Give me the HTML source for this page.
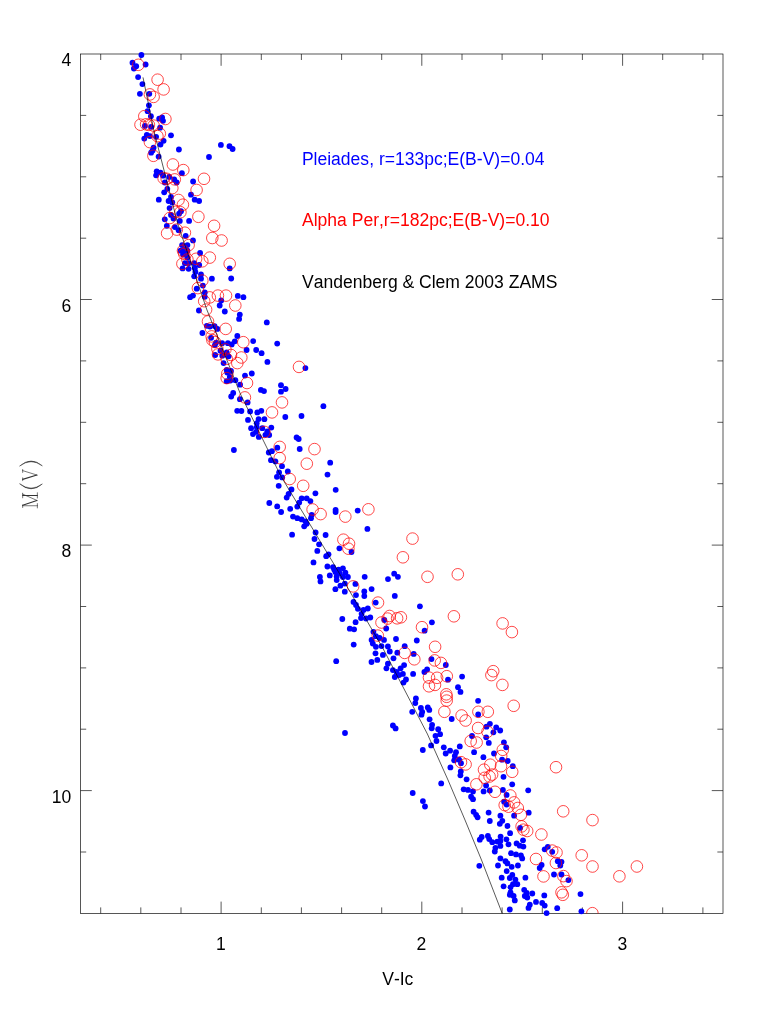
<!DOCTYPE html>
<html><head><meta charset="utf-8"><title>CMD</title>
<style>
html,body{margin:0;padding:0;background:#fff;}
body{width:763px;height:1016px;overflow:hidden;position:relative;}
svg{position:absolute;left:0;top:0;display:block;will-change:transform;}
text{font-family:"Liberation Sans",sans-serif;font-kerning:none;}
</style></head><body>
<svg width="763" height="1016" viewBox="0 0 763 1016">
<rect x="0" y="0" width="763" height="1016" fill="#fff"/>
<defs><clipPath id="pc"><rect x="80.6" y="54.0" width="642.35" height="859.4"/></clipPath></defs>
<g stroke="#000" stroke-width="0.66" fill="none">
<rect x="80.6" y="54.0" width="642.4" height="859.4"/>
<path d="M100.7 913.4v-6.0M100.7 54.0v6.0M140.8 913.4v-6.0M140.8 54.0v6.0M181.0 913.4v-6.0M181.0 54.0v6.0M221.1 913.4v-11.8M221.1 54.0v11.8M261.3 913.4v-6.0M261.3 54.0v6.0M301.4 913.4v-6.0M301.4 54.0v6.0M341.6 913.4v-6.0M341.6 54.0v6.0M381.7 913.4v-6.0M381.7 54.0v6.0M421.8 913.4v-11.8M421.8 54.0v11.8M462.0 913.4v-6.0M462.0 54.0v6.0M502.1 913.4v-6.0M502.1 54.0v6.0M542.3 913.4v-6.0M542.3 54.0v6.0M582.4 913.4v-6.0M582.4 54.0v6.0M622.6 913.4v-11.8M622.6 54.0v11.8M662.7 913.4v-6.0M662.7 54.0v6.0M702.9 913.4v-6.0M702.9 54.0v6.0M80.6 115.4h5.6M722.95 115.4h-5.6M80.6 176.8h5.6M722.95 176.8h-5.6M80.6 238.2h5.6M722.95 238.2h-5.6M80.6 299.5h11.2M722.95 299.5h-11.2M80.6 360.9h5.6M722.95 360.9h-5.6M80.6 422.3h5.6M722.95 422.3h-5.6M80.6 483.7h5.6M722.95 483.7h-5.6M80.6 545.1h11.2M722.95 545.1h-11.2M80.6 606.5h5.6M722.95 606.5h-5.6M80.6 667.9h5.6M722.95 667.9h-5.6M80.6 729.2h5.6M722.95 729.2h-5.6M80.6 790.6h11.2M722.95 790.6h-11.2M80.6 852.0h5.6M722.95 852.0h-5.6"/>
</g>
<g fill="#0000ff">
<circle cx="141.4" cy="55.0" r="2.9"/><circle cx="132.5" cy="62.7" r="2.9"/><circle cx="136.2" cy="66.2" r="2.9"/><circle cx="133.9" cy="68.5" r="2.9"/><circle cx="145.6" cy="64.5" r="2.9"/><circle cx="138.1" cy="77.1" r="2.9"/><circle cx="142.4" cy="84.1" r="2.9"/><circle cx="139.9" cy="93.8" r="2.9"/><circle cx="149.3" cy="93.8" r="2.9"/><circle cx="148.9" cy="105.3" r="2.9"/><circle cx="147.6" cy="111.2" r="2.9"/><circle cx="150.9" cy="116.2" r="2.9"/><circle cx="159.2" cy="118.7" r="2.9"/><circle cx="162.1" cy="117.5" r="2.9"/><circle cx="163.0" cy="120.8" r="2.9"/><circle cx="144.9" cy="125.9" r="2.9"/><circle cx="151.1" cy="126.8" r="2.9"/><circle cx="160.1" cy="127.7" r="2.9"/><circle cx="146.8" cy="134.9" r="2.9"/><circle cx="149.9" cy="136.1" r="2.9"/><circle cx="171.0" cy="135.3" r="2.9"/><circle cx="156.1" cy="136.8" r="2.9"/><circle cx="144.3" cy="138.6" r="2.9"/><circle cx="163.6" cy="140.8" r="2.9"/><circle cx="160.5" cy="144.6" r="2.9"/><circle cx="153.6" cy="147.7" r="2.9"/><circle cx="152.6" cy="150.4" r="2.9"/><circle cx="151.1" cy="152.7" r="2.9"/><circle cx="158.6" cy="156.6" r="2.9"/><circle cx="178.9" cy="149.5" r="2.9"/><circle cx="209.0" cy="157.0" r="2.9"/><circle cx="156.7" cy="171.3" r="2.9"/><circle cx="160.5" cy="172.6" r="2.9"/><circle cx="156.1" cy="175.3" r="2.9"/><circle cx="163.0" cy="175.7" r="2.9"/><circle cx="181.9" cy="173.2" r="2.9"/><circle cx="169.2" cy="176.9" r="2.9"/><circle cx="174.2" cy="179.4" r="2.9"/><circle cx="176.7" cy="182.5" r="2.9"/><circle cx="164.8" cy="182.5" r="2.9"/><circle cx="167.3" cy="188.8" r="2.9"/><circle cx="164.2" cy="192.3" r="2.9"/><circle cx="193.1" cy="181.5" r="2.9"/><circle cx="158.8" cy="199.7" r="2.9"/><circle cx="191.0" cy="194.7" r="2.9"/><circle cx="194.7" cy="199.7" r="2.9"/><circle cx="199.1" cy="201.0" r="2.9"/><circle cx="171.0" cy="196.9" r="2.9"/><circle cx="168.6" cy="201.0" r="2.9"/><circle cx="172.3" cy="202.5" r="2.9"/><circle cx="169.6" cy="208.1" r="2.9"/><circle cx="181.0" cy="211.2" r="2.9"/><circle cx="179.1" cy="213.7" r="2.9"/><circle cx="171.0" cy="214.9" r="2.9"/><circle cx="164.8" cy="219.3" r="2.9"/><circle cx="173.5" cy="218.6" r="2.9"/><circle cx="179.8" cy="220.9" r="2.9"/><circle cx="189.1" cy="220.9" r="2.9"/><circle cx="166.8" cy="225.8" r="2.9"/><circle cx="174.9" cy="227.1" r="2.9"/><circle cx="178.6" cy="230.2" r="2.9"/><circle cx="185.7" cy="235.8" r="2.9"/><circle cx="193.0" cy="240.4" r="2.9"/><circle cx="182.1" cy="245.1" r="2.9"/><circle cx="187.4" cy="245.1" r="2.9"/><circle cx="180.5" cy="250.7" r="2.9"/><circle cx="187.4" cy="250.7" r="2.9"/><circle cx="184.6" cy="249.5" r="2.9"/><circle cx="185.9" cy="254.1" r="2.9"/><circle cx="183.0" cy="254.5" r="2.9"/><circle cx="187.4" cy="257.6" r="2.9"/><circle cx="200.1" cy="253.0" r="2.9"/><circle cx="184.9" cy="263.2" r="2.9"/><circle cx="188.6" cy="263.2" r="2.9"/><circle cx="194.2" cy="263.2" r="2.9"/><circle cx="199.2" cy="265.0" r="2.9"/><circle cx="182.6" cy="268.4" r="2.9"/><circle cx="188.6" cy="268.8" r="2.9"/><circle cx="194.8" cy="268.2" r="2.9"/><circle cx="195.4" cy="271.9" r="2.9"/><circle cx="194.2" cy="276.3" r="2.9"/><circle cx="201.0" cy="274.4" r="2.9"/><circle cx="201.0" cy="278.7" r="2.9"/><circle cx="211.9" cy="278.7" r="2.9"/><circle cx="231.2" cy="278.5" r="2.9"/><circle cx="229.7" cy="268.4" r="2.9"/><circle cx="202.9" cy="285.6" r="2.9"/><circle cx="196.7" cy="288.7" r="2.9"/><circle cx="204.8" cy="292.4" r="2.9"/><circle cx="193.0" cy="295.6" r="2.9"/><circle cx="190.1" cy="297.2" r="2.9"/><circle cx="204.8" cy="296.8" r="2.9"/><circle cx="237.8" cy="295.9" r="2.9"/><circle cx="243.4" cy="297.2" r="2.9"/><circle cx="221.2" cy="300.5" r="2.9"/><circle cx="219.7" cy="305.5" r="2.9"/><circle cx="198.9" cy="310.5" r="2.9"/><circle cx="224.8" cy="311.5" r="2.9"/><circle cx="239.8" cy="314.6" r="2.9"/><circle cx="239.1" cy="318.9" r="2.9"/><circle cx="266.8" cy="322.4" r="2.9"/><circle cx="206.8" cy="325.8" r="2.9"/><circle cx="209.9" cy="326.6" r="2.9"/><circle cx="214.6" cy="326.1" r="2.9"/><circle cx="217.4" cy="328.9" r="2.9"/><circle cx="202.4" cy="333.0" r="2.9"/><circle cx="211.1" cy="337.8" r="2.9"/><circle cx="237.3" cy="336.0" r="2.9"/><circle cx="216.1" cy="342.6" r="2.9"/><circle cx="214.9" cy="345.1" r="2.9"/><circle cx="222.1" cy="343.2" r="2.9"/><circle cx="227.9" cy="343.2" r="2.9"/><circle cx="231.7" cy="344.4" r="2.9"/><circle cx="234.8" cy="341.3" r="2.9"/><circle cx="253.2" cy="341.1" r="2.9"/><circle cx="246.6" cy="350.0" r="2.9"/><circle cx="256.2" cy="350.0" r="2.9"/><circle cx="261.6" cy="353.2" r="2.9"/><circle cx="220.5" cy="350.7" r="2.9"/><circle cx="226.7" cy="352.5" r="2.9"/><circle cx="215.2" cy="355.0" r="2.9"/><circle cx="222.3" cy="355.7" r="2.9"/><circle cx="228.6" cy="356.3" r="2.9"/><circle cx="267.4" cy="361.9" r="2.9"/><circle cx="223.6" cy="363.1" r="2.9"/><circle cx="226.7" cy="370.0" r="2.9"/><circle cx="231.0" cy="371.0" r="2.9"/><circle cx="227.3" cy="372.5" r="2.9"/><circle cx="251.8" cy="373.5" r="2.9"/><circle cx="245.0" cy="375.6" r="2.9"/><circle cx="229.8" cy="376.8" r="2.9"/><circle cx="226.7" cy="381.2" r="2.9"/><circle cx="230.4" cy="380.6" r="2.9"/><circle cx="235.4" cy="380.2" r="2.9"/><circle cx="240.1" cy="384.7" r="2.9"/><circle cx="260.9" cy="389.9" r="2.9"/><circle cx="264.0" cy="391.1" r="2.9"/><circle cx="233.2" cy="393.0" r="2.9"/><circle cx="281.0" cy="385.2" r="2.9"/><circle cx="285.6" cy="389.0" r="2.9"/><circle cx="281.0" cy="391.7" r="2.9"/><circle cx="231.2" cy="396.5" r="2.9"/><circle cx="239.9" cy="399.2" r="2.9"/><circle cx="247.6" cy="402.4" r="2.9"/><circle cx="237.2" cy="410.8" r="2.9"/><circle cx="241.4" cy="411.0" r="2.9"/><circle cx="250.1" cy="411.4" r="2.9"/><circle cx="257.3" cy="412.4" r="2.9"/><circle cx="261.3" cy="410.8" r="2.9"/><circle cx="285.3" cy="417.0" r="2.9"/><circle cx="301.5" cy="416.0" r="2.9"/><circle cx="248.0" cy="419.9" r="2.9"/><circle cx="258.6" cy="419.1" r="2.9"/><circle cx="264.4" cy="419.2" r="2.9"/><circle cx="256.7" cy="423.2" r="2.9"/><circle cx="251.1" cy="428.2" r="2.9"/><circle cx="256.7" cy="427.0" r="2.9"/><circle cx="262.3" cy="428.2" r="2.9"/><circle cx="271.3" cy="427.6" r="2.9"/><circle cx="267.3" cy="431.3" r="2.9"/><circle cx="253.0" cy="434.1" r="2.9"/><circle cx="256.1" cy="431.9" r="2.9"/><circle cx="258.8" cy="436.9" r="2.9"/><circle cx="265.4" cy="434.8" r="2.9"/><circle cx="269.2" cy="435.0" r="2.9"/><circle cx="296.6" cy="437.5" r="2.9"/><circle cx="298.7" cy="439.0" r="2.9"/><circle cx="233.9" cy="450.0" r="2.9"/><circle cx="277.3" cy="447.7" r="2.9"/><circle cx="299.7" cy="449.0" r="2.9"/><circle cx="271.9" cy="451.2" r="2.9"/><circle cx="268.8" cy="452.5" r="2.9"/><circle cx="271.0" cy="460.2" r="2.9"/><circle cx="275.4" cy="461.4" r="2.9"/><circle cx="282.0" cy="466.2" r="2.9"/><circle cx="279.1" cy="472.4" r="2.9"/><circle cx="287.8" cy="471.5" r="2.9"/><circle cx="276.9" cy="476.8" r="2.9"/><circle cx="282.2" cy="477.4" r="2.9"/><circle cx="327.5" cy="474.6" r="2.9"/><circle cx="278.7" cy="485.8" r="2.9"/><circle cx="291.5" cy="489.5" r="2.9"/><circle cx="288.6" cy="493.9" r="2.9"/><circle cx="286.7" cy="497.6" r="2.9"/><circle cx="315.4" cy="493.3" r="2.9"/><circle cx="335.7" cy="489.8" r="2.9"/><circle cx="301.7" cy="498.3" r="2.9"/><circle cx="306.7" cy="498.3" r="2.9"/><circle cx="310.4" cy="501.1" r="2.9"/><circle cx="299.2" cy="502.6" r="2.9"/><circle cx="297.3" cy="506.6" r="2.9"/><circle cx="269.3" cy="503.0" r="2.9"/><circle cx="277.2" cy="506.4" r="2.9"/><circle cx="281.1" cy="512.0" r="2.9"/><circle cx="290.2" cy="508.8" r="2.9"/><circle cx="335.6" cy="509.8" r="2.9"/><circle cx="335.6" cy="512.0" r="2.9"/><circle cx="311.7" cy="514.8" r="2.9"/><circle cx="311.0" cy="518.2" r="2.9"/><circle cx="293.0" cy="516.6" r="2.9"/><circle cx="297.3" cy="518.2" r="2.9"/><circle cx="301.7" cy="519.4" r="2.9"/><circle cx="305.4" cy="521.3" r="2.9"/><circle cx="306.7" cy="523.8" r="2.9"/><circle cx="304.2" cy="526.3" r="2.9"/><circle cx="292.1" cy="534.7" r="2.9"/><circle cx="315.6" cy="532.5" r="2.9"/><circle cx="325.6" cy="535.0" r="2.9"/><circle cx="314.5" cy="539.0" r="2.9"/><circle cx="319.1" cy="544.3" r="2.9"/><circle cx="317.3" cy="550.9" r="2.9"/><circle cx="339.4" cy="548.3" r="2.9"/><circle cx="328.5" cy="554.3" r="2.9"/><circle cx="326.2" cy="556.2" r="2.9"/><circle cx="313.5" cy="562.4" r="2.9"/><circle cx="327.4" cy="566.5" r="2.9"/><circle cx="333.0" cy="567.1" r="2.9"/><circle cx="342.9" cy="568.3" r="2.9"/><circle cx="338.6" cy="569.6" r="2.9"/><circle cx="335.4" cy="572.1" r="2.9"/><circle cx="345.4" cy="572.7" r="2.9"/><circle cx="339.8" cy="573.3" r="2.9"/><circle cx="334.2" cy="569.6" r="2.9"/><circle cx="329.8" cy="575.4" r="2.9"/><circle cx="336.7" cy="576.4" r="2.9"/><circle cx="347.9" cy="577.0" r="2.9"/><circle cx="342.9" cy="577.0" r="2.9"/><circle cx="336.7" cy="580.1" r="2.9"/><circle cx="319.9" cy="577.0" r="2.9"/><circle cx="320.5" cy="581.4" r="2.9"/><circle cx="364.7" cy="576.8" r="2.9"/><circle cx="355.4" cy="583.9" r="2.9"/><circle cx="344.8" cy="583.6" r="2.9"/><circle cx="340.4" cy="585.7" r="2.9"/><circle cx="335.4" cy="589.2" r="2.9"/><circle cx="344.8" cy="591.7" r="2.9"/><circle cx="371.6" cy="589.1" r="2.9"/><circle cx="364.3" cy="591.4" r="2.9"/><circle cx="364.3" cy="596.1" r="2.9"/><circle cx="356.0" cy="595.1" r="2.9"/><circle cx="353.5" cy="601.9" r="2.9"/><circle cx="356.0" cy="605.0" r="2.9"/><circle cx="357.9" cy="608.8" r="2.9"/><circle cx="375.7" cy="602.6" r="2.9"/><circle cx="367.8" cy="608.5" r="2.9"/><circle cx="363.5" cy="610.0" r="2.9"/><circle cx="361.6" cy="613.8" r="2.9"/><circle cx="361.0" cy="618.1" r="2.9"/><circle cx="366.0" cy="618.5" r="2.9"/><circle cx="370.3" cy="617.5" r="2.9"/><circle cx="342.3" cy="619.0" r="2.9"/><circle cx="355.6" cy="622.2" r="2.9"/><circle cx="349.8" cy="628.7" r="2.9"/><circle cx="354.1" cy="629.3" r="2.9"/><circle cx="373.4" cy="631.8" r="2.9"/><circle cx="353.7" cy="644.6" r="2.9"/><circle cx="371.6" cy="639.9" r="2.9"/><circle cx="375.9" cy="636.2" r="2.9"/><circle cx="379.6" cy="638.0" r="2.9"/><circle cx="372.8" cy="643.6" r="2.9"/><circle cx="375.9" cy="646.8" r="2.9"/><circle cx="381.5" cy="646.1" r="2.9"/><circle cx="384.0" cy="639.9" r="2.9"/><circle cx="384.3" cy="620.0" r="2.9"/><circle cx="387.9" cy="646.5" r="2.9"/><circle cx="396.0" cy="639.0" r="2.9"/><circle cx="404.7" cy="646.2" r="2.9"/><circle cx="416.8" cy="640.5" r="2.9"/><circle cx="375.5" cy="653.3" r="2.9"/><circle cx="382.9" cy="654.9" r="2.9"/><circle cx="389.8" cy="651.5" r="2.9"/><circle cx="397.3" cy="652.7" r="2.9"/><circle cx="393.5" cy="658.3" r="2.9"/><circle cx="413.7" cy="653.9" r="2.9"/><circle cx="377.3" cy="659.9" r="2.9"/><circle cx="371.5" cy="662.0" r="2.9"/><circle cx="336.2" cy="661.2" r="2.9"/><circle cx="387.9" cy="663.7" r="2.9"/><circle cx="386.4" cy="668.3" r="2.9"/><circle cx="404.1" cy="665.1" r="2.9"/><circle cx="400.6" cy="668.3" r="2.9"/><circle cx="392.9" cy="670.1" r="2.9"/><circle cx="396.6" cy="672.0" r="2.9"/><circle cx="402.9" cy="673.9" r="2.9"/><circle cx="399.1" cy="675.1" r="2.9"/><circle cx="394.8" cy="677.0" r="2.9"/><circle cx="413.1" cy="673.9" r="2.9"/><circle cx="406.0" cy="679.5" r="2.9"/><circle cx="403.5" cy="682.6" r="2.9"/><circle cx="424.4" cy="672.0" r="2.9"/><circle cx="427.1" cy="669.5" r="2.9"/><circle cx="415.9" cy="698.5" r="2.9"/><circle cx="415.3" cy="703.1" r="2.9"/><circle cx="420.9" cy="707.9" r="2.9"/><circle cx="427.8" cy="707.5" r="2.9"/><circle cx="412.2" cy="711.8" r="2.9"/><circle cx="422.2" cy="711.8" r="2.9"/><circle cx="421.5" cy="714.7" r="2.9"/><circle cx="429.6" cy="719.3" r="2.9"/><circle cx="392.9" cy="725.5" r="2.9"/><circle cx="395.6" cy="728.4" r="2.9"/><circle cx="345.0" cy="733.0" r="2.9"/><circle cx="357.7" cy="510.6" r="2.9"/><circle cx="367.4" cy="528.9" r="2.9"/><circle cx="351.5" cy="552.0" r="2.9"/><circle cx="388.0" cy="579.1" r="2.9"/><circle cx="394.2" cy="573.7" r="2.9"/><circle cx="397.9" cy="576.8" r="2.9"/><circle cx="394.8" cy="595.9" r="2.9"/><circle cx="419.9" cy="606.3" r="2.9"/><circle cx="431.9" cy="622.3" r="2.9"/><circle cx="424.6" cy="630.7" r="2.9"/><circle cx="386.2" cy="628.5" r="2.9"/><circle cx="431.5" cy="659.1" r="2.9"/><circle cx="445.8" cy="665.0" r="2.9"/><circle cx="462.1" cy="676.6" r="2.9"/><circle cx="448.0" cy="679.7" r="2.9"/><circle cx="458.0" cy="687.2" r="2.9"/><circle cx="460.5" cy="691.9" r="2.9"/><circle cx="429.3" cy="709.9" r="2.9"/><circle cx="478.1" cy="700.8" r="2.9"/><circle cx="478.2" cy="714.5" r="2.9"/><circle cx="451.7" cy="719.0" r="2.9"/><circle cx="432.1" cy="724.8" r="2.9"/><circle cx="431.7" cy="728.3" r="2.9"/><circle cx="438.2" cy="729.2" r="2.9"/><circle cx="440.1" cy="734.2" r="2.9"/><circle cx="435.5" cy="735.8" r="2.9"/><circle cx="436.5" cy="741.0" r="2.9"/><circle cx="431.1" cy="745.4" r="2.9"/><circle cx="422.8" cy="750.0" r="2.9"/><circle cx="443.8" cy="747.3" r="2.9"/><circle cx="450.1" cy="750.7" r="2.9"/><circle cx="445.7" cy="753.5" r="2.9"/><circle cx="459.8" cy="746.4" r="2.9"/><circle cx="456.0" cy="752.2" r="2.9"/><circle cx="454.8" cy="756.0" r="2.9"/><circle cx="454.2" cy="760.3" r="2.9"/><circle cx="459.1" cy="759.7" r="2.9"/><circle cx="461.0" cy="763.2" r="2.9"/><circle cx="450.4" cy="767.4" r="2.9"/><circle cx="460.8" cy="771.5" r="2.9"/><circle cx="460.4" cy="775.3" r="2.9"/><circle cx="466.6" cy="779.3" r="2.9"/><circle cx="472.0" cy="736.0" r="2.9"/><circle cx="474.1" cy="752.2" r="2.9"/><circle cx="483.4" cy="757.2" r="2.9"/><circle cx="489.9" cy="723.8" r="2.9"/><circle cx="486.5" cy="726.7" r="2.9"/><circle cx="486.2" cy="737.3" r="2.9"/><circle cx="488.8" cy="742.9" r="2.9"/><circle cx="493.4" cy="732.3" r="2.9"/><circle cx="494.0" cy="753.5" r="2.9"/><circle cx="512.8" cy="766.2" r="2.9"/><circle cx="503.5" cy="776.8" r="2.9"/><circle cx="512.2" cy="784.3" r="2.9"/><circle cx="441.2" cy="783.4" r="2.9"/><circle cx="486.1" cy="785.5" r="2.9"/><circle cx="463.7" cy="789.3" r="2.9"/><circle cx="468.0" cy="789.9" r="2.9"/><circle cx="473.0" cy="791.4" r="2.9"/><circle cx="483.6" cy="791.4" r="2.9"/><circle cx="489.8" cy="790.5" r="2.9"/><circle cx="502.9" cy="789.9" r="2.9"/><circle cx="506.6" cy="794.9" r="2.9"/><circle cx="528.2" cy="790.3" r="2.9"/><circle cx="471.1" cy="796.7" r="2.9"/><circle cx="473.0" cy="799.2" r="2.9"/><circle cx="504.1" cy="801.7" r="2.9"/><circle cx="506.6" cy="804.6" r="2.9"/><circle cx="473.6" cy="811.7" r="2.9"/><circle cx="476.1" cy="814.8" r="2.9"/><circle cx="477.6" cy="817.3" r="2.9"/><circle cx="488.6" cy="812.6" r="2.9"/><circle cx="500.4" cy="815.7" r="2.9"/><circle cx="514.1" cy="815.7" r="2.9"/><circle cx="528.7" cy="812.7" r="2.9"/><circle cx="489.8" cy="821.0" r="2.9"/><circle cx="502.3" cy="820.8" r="2.9"/><circle cx="499.8" cy="823.8" r="2.9"/><circle cx="507.5" cy="826.0" r="2.9"/><circle cx="520.1" cy="827.9" r="2.9"/><circle cx="510.1" cy="833.2" r="2.9"/><circle cx="481.7" cy="837.0" r="2.9"/><circle cx="479.8" cy="839.7" r="2.9"/><circle cx="487.9" cy="836.0" r="2.9"/><circle cx="489.2" cy="839.1" r="2.9"/><circle cx="492.3" cy="842.2" r="2.9"/><circle cx="500.6" cy="836.6" r="2.9"/><circle cx="500.4" cy="841.0" r="2.9"/><circle cx="497.3" cy="841.6" r="2.9"/><circle cx="506.4" cy="839.3" r="2.9"/><circle cx="508.5" cy="844.3" r="2.9"/><circle cx="500.4" cy="845.9" r="2.9"/><circle cx="495.4" cy="847.8" r="2.9"/><circle cx="494.8" cy="851.5" r="2.9"/><circle cx="523.0" cy="840.3" r="2.9"/><circle cx="516.6" cy="843.4" r="2.9"/><circle cx="519.7" cy="845.7" r="2.9"/><circle cx="523.4" cy="846.6" r="2.9"/><circle cx="511.0" cy="853.2" r="2.9"/><circle cx="516.0" cy="854.4" r="2.9"/><circle cx="520.9" cy="855.3" r="2.9"/><circle cx="522.2" cy="858.4" r="2.9"/><circle cx="500.4" cy="858.4" r="2.9"/><circle cx="505.5" cy="861.2" r="2.9"/><circle cx="507.4" cy="863.4" r="2.9"/><circle cx="498.0" cy="865.5" r="2.9"/><circle cx="479.3" cy="865.8" r="2.9"/><circle cx="511.7" cy="866.8" r="2.9"/><circle cx="517.9" cy="865.5" r="2.9"/><circle cx="506.7" cy="871.1" r="2.9"/><circle cx="501.7" cy="877.7" r="2.9"/><circle cx="512.3" cy="874.9" r="2.9"/><circle cx="509.8" cy="878.0" r="2.9"/><circle cx="515.4" cy="879.6" r="2.9"/><circle cx="525.4" cy="877.7" r="2.9"/><circle cx="517.3" cy="884.2" r="2.9"/><circle cx="513.0" cy="884.2" r="2.9"/><circle cx="510.5" cy="887.3" r="2.9"/><circle cx="503.6" cy="886.3" r="2.9"/><circle cx="510.5" cy="892.3" r="2.9"/><circle cx="509.8" cy="894.8" r="2.9"/><circle cx="513.6" cy="896.0" r="2.9"/><circle cx="514.8" cy="900.4" r="2.9"/><circle cx="524.2" cy="889.8" r="2.9"/><circle cx="526.7" cy="892.9" r="2.9"/><circle cx="524.8" cy="896.0" r="2.9"/><circle cx="527.3" cy="897.5" r="2.9"/><circle cx="532.3" cy="893.5" r="2.9"/><circle cx="544.3" cy="895.4" r="2.9"/><circle cx="536.0" cy="901.9" r="2.9"/><circle cx="529.8" cy="904.7" r="2.9"/><circle cx="528.5" cy="907.9" r="2.9"/><circle cx="542.2" cy="902.9" r="2.9"/><circle cx="544.7" cy="905.6" r="2.9"/><circle cx="509.8" cy="909.5" r="2.9"/><circle cx="546.6" cy="913.1" r="2.9"/><circle cx="557.2" cy="908.2" r="2.9"/><circle cx="547.8" cy="846.8" r="2.9"/><circle cx="544.7" cy="849.3" r="2.9"/><circle cx="552.2" cy="851.8" r="2.9"/><circle cx="557.8" cy="861.2" r="2.9"/><circle cx="561.5" cy="861.8" r="2.9"/><circle cx="560.3" cy="865.5" r="2.9"/><circle cx="541.6" cy="864.9" r="2.9"/><circle cx="539.7" cy="868.0" r="2.9"/><circle cx="554.0" cy="874.5" r="2.9"/><circle cx="561.5" cy="874.5" r="2.9"/><circle cx="568.4" cy="880.1" r="2.9"/><circle cx="496.2" cy="727.4" r="2.9"/><circle cx="500.2" cy="730.5" r="2.9"/><circle cx="503.9" cy="742.3" r="2.9"/><circle cx="506.2" cy="747.3" r="2.9"/><circle cx="502.1" cy="759.7" r="2.9"/><circle cx="507.7" cy="761.0" r="2.9"/><circle cx="580.5" cy="894.1" r="2.9"/><circle cx="581.4" cy="911.3" r="2.9"/><circle cx="220.9" cy="144.9" r="2.9"/><circle cx="229.5" cy="146.2" r="2.9"/><circle cx="232.6" cy="149.0" r="2.9"/><circle cx="305.4" cy="368.1" r="2.9"/><circle cx="277.2" cy="343.6" r="2.9"/><circle cx="323.4" cy="406.2" r="2.9"/><circle cx="330.2" cy="462.7" r="2.9"/><circle cx="412.7" cy="793.0" r="2.9"/><circle cx="422.9" cy="801.1" r="2.9"/><circle cx="425.0" cy="806.5" r="2.9"/>
</g>
<g fill="none" stroke="#ff0000" stroke-width="0.72" clip-path="url(#pc)">
<circle cx="138.3" cy="64.8" r="5.8"/><circle cx="157.6" cy="79.7" r="5.8"/><circle cx="163.6" cy="89.4" r="5.8"/><circle cx="149.9" cy="94.4" r="5.8"/><circle cx="153.6" cy="96.9" r="5.8"/><circle cx="144.3" cy="116.2" r="5.8"/><circle cx="165.4" cy="119.0" r="5.8"/><circle cx="140.5" cy="124.7" r="5.8"/><circle cx="146.1" cy="124.3" r="5.8"/><circle cx="148.9" cy="124.9" r="5.8"/><circle cx="153.6" cy="125.6" r="5.8"/><circle cx="159.8" cy="133.6" r="5.8"/><circle cx="157.4" cy="136.1" r="5.8"/><circle cx="149.9" cy="142.1" r="5.8"/><circle cx="153.4" cy="155.8" r="5.8"/><circle cx="172.9" cy="164.5" r="5.8"/><circle cx="183.3" cy="170.1" r="5.8"/><circle cx="163.6" cy="178.2" r="5.8"/><circle cx="166.7" cy="178.8" r="5.8"/><circle cx="174.8" cy="179.4" r="5.8"/><circle cx="204.0" cy="178.8" r="5.8"/><circle cx="172.3" cy="188.1" r="5.8"/><circle cx="196.6" cy="190.0" r="5.8"/><circle cx="178.5" cy="200.0" r="5.8"/><circle cx="182.9" cy="204.7" r="5.8"/><circle cx="175.4" cy="211.8" r="5.8"/><circle cx="180.4" cy="212.2" r="5.8"/><circle cx="169.8" cy="218.0" r="5.8"/><circle cx="198.4" cy="216.8" r="5.8"/><circle cx="167.1" cy="233.3" r="5.8"/><circle cx="176.8" cy="229.6" r="5.8"/><circle cx="184.9" cy="232.7" r="5.8"/><circle cx="214.1" cy="225.8" r="5.8"/><circle cx="212.3" cy="238.0" r="5.8"/><circle cx="221.6" cy="240.5" r="5.8"/><circle cx="188.6" cy="245.1" r="5.8"/><circle cx="183.0" cy="250.7" r="5.8"/><circle cx="184.2" cy="253.8" r="5.8"/><circle cx="187.4" cy="259.4" r="5.8"/><circle cx="196.1" cy="258.8" r="5.8"/><circle cx="202.3" cy="261.3" r="5.8"/><circle cx="209.8" cy="257.6" r="5.8"/><circle cx="182.4" cy="263.8" r="5.8"/><circle cx="229.7" cy="263.8" r="5.8"/><circle cx="202.3" cy="280.6" r="5.8"/><circle cx="197.9" cy="288.1" r="5.8"/><circle cx="209.8" cy="297.4" r="5.8"/><circle cx="217.9" cy="295.6" r="5.8"/><circle cx="226.0" cy="295.6" r="5.8"/><circle cx="204.2" cy="301.2" r="5.8"/><circle cx="235.3" cy="305.5" r="5.8"/><circle cx="206.1" cy="309.6" r="5.8"/><circle cx="208.0" cy="321.4" r="5.8"/><circle cx="210.9" cy="328.3" r="5.8"/><circle cx="225.7" cy="328.9" r="5.8"/><circle cx="211.7" cy="336.4" r="5.8"/><circle cx="212.4" cy="340.1" r="5.8"/><circle cx="214.9" cy="342.0" r="5.8"/><circle cx="243.3" cy="342.2" r="5.8"/><circle cx="217.4" cy="348.8" r="5.8"/><circle cx="225.4" cy="349.4" r="5.8"/><circle cx="218.0" cy="354.4" r="5.8"/><circle cx="231.0" cy="355.0" r="5.8"/><circle cx="226.7" cy="358.8" r="5.8"/><circle cx="241.3" cy="357.5" r="5.8"/><circle cx="237.3" cy="363.1" r="5.8"/><circle cx="227.3" cy="373.7" r="5.8"/><circle cx="226.7" cy="378.1" r="5.8"/><circle cx="247.0" cy="383.0" r="5.8"/><circle cx="244.9" cy="397.4" r="5.8"/><circle cx="282.0" cy="402.4" r="5.8"/><circle cx="272.0" cy="412.4" r="5.8"/><circle cx="264.4" cy="431.9" r="5.8"/><circle cx="279.7" cy="446.9" r="5.8"/><circle cx="279.7" cy="458.1" r="5.8"/><circle cx="306.8" cy="463.7" r="5.8"/><circle cx="289.7" cy="479.0" r="5.8"/><circle cx="303.2" cy="485.8" r="5.8"/><circle cx="312.6" cy="509.5" r="5.8"/><circle cx="320.6" cy="514.1" r="5.8"/><circle cx="345.3" cy="516.6" r="5.8"/><circle cx="343.4" cy="539.7" r="5.8"/><circle cx="349.0" cy="543.7" r="5.8"/><circle cx="348.4" cy="548.7" r="5.8"/><circle cx="353.1" cy="586.4" r="5.8"/><circle cx="378.0" cy="602.6" r="5.8"/><circle cx="381.5" cy="622.5" r="5.8"/><circle cx="377.8" cy="635.6" r="5.8"/><circle cx="404.7" cy="652.9" r="5.8"/><circle cx="414.3" cy="659.3" r="5.8"/><circle cx="429.0" cy="677.6" r="5.8"/><circle cx="429.0" cy="686.3" r="5.8"/><circle cx="368.4" cy="509.3" r="5.8"/><circle cx="412.5" cy="538.6" r="5.8"/><circle cx="402.9" cy="557.3" r="5.8"/><circle cx="427.5" cy="576.8" r="5.8"/><circle cx="457.8" cy="574.3" r="5.8"/><circle cx="453.9" cy="616.3" r="5.8"/><circle cx="387.6" cy="618.6" r="5.8"/><circle cx="389.6" cy="616.0" r="5.8"/><circle cx="397.1" cy="618.3" r="5.8"/><circle cx="400.9" cy="617.3" r="5.8"/><circle cx="422.0" cy="627.2" r="5.8"/><circle cx="435.1" cy="646.8" r="5.8"/><circle cx="502.6" cy="623.4" r="5.8"/><circle cx="511.9" cy="632.1" r="5.8"/><circle cx="434.7" cy="660.4" r="5.8"/><circle cx="440.9" cy="662.9" r="5.8"/><circle cx="493.2" cy="671.2" r="5.8"/><circle cx="491.4" cy="675.1" r="5.8"/><circle cx="502.4" cy="684.9" r="5.8"/><circle cx="437.1" cy="677.8" r="5.8"/><circle cx="446.8" cy="676.2" r="5.8"/><circle cx="435.0" cy="684.9" r="5.8"/><circle cx="446.3" cy="694.3" r="5.8"/><circle cx="446.7" cy="696.8" r="5.8"/><circle cx="446.7" cy="700.6" r="5.8"/><circle cx="444.4" cy="711.8" r="5.8"/><circle cx="461.6" cy="715.5" r="5.8"/><circle cx="465.6" cy="720.5" r="5.8"/><circle cx="478.4" cy="711.8" r="5.8"/><circle cx="487.8" cy="711.8" r="5.8"/><circle cx="478.1" cy="728.0" r="5.8"/><circle cx="487.5" cy="731.7" r="5.8"/><circle cx="470.7" cy="741.0" r="5.8"/><circle cx="476.6" cy="742.5" r="5.8"/><circle cx="461.0" cy="762.2" r="5.8"/><circle cx="465.6" cy="764.4" r="5.8"/><circle cx="490.3" cy="764.7" r="5.8"/><circle cx="484.0" cy="769.7" r="5.8"/><circle cx="484.7" cy="777.8" r="5.8"/><circle cx="489.6" cy="776.5" r="5.8"/><circle cx="492.1" cy="774.6" r="5.8"/><circle cx="501.0" cy="766.2" r="5.8"/><circle cx="512.2" cy="771.8" r="5.8"/><circle cx="476.4" cy="784.3" r="5.8"/><circle cx="495.0" cy="791.8" r="5.8"/><circle cx="510.3" cy="795.5" r="5.8"/><circle cx="514.1" cy="802.4" r="5.8"/><circle cx="504.7" cy="805.1" r="5.8"/><circle cx="508.5" cy="806.7" r="5.8"/><circle cx="517.8" cy="808.0" r="5.8"/><circle cx="520.9" cy="814.8" r="5.8"/><circle cx="521.6" cy="826.4" r="5.8"/><circle cx="527.2" cy="831.0" r="5.8"/><circle cx="523.4" cy="829.7" r="5.8"/><circle cx="536.0" cy="859.0" r="5.8"/><circle cx="552.2" cy="850.6" r="5.8"/><circle cx="556.5" cy="852.5" r="5.8"/><circle cx="555.9" cy="863.0" r="5.8"/><circle cx="543.5" cy="876.4" r="5.8"/><circle cx="563.4" cy="876.1" r="5.8"/><circle cx="566.5" cy="881.1" r="5.8"/><circle cx="561.5" cy="892.3" r="5.8"/><circle cx="562.8" cy="894.8" r="5.8"/><circle cx="513.7" cy="705.8" r="5.8"/><circle cx="502.8" cy="749.8" r="5.8"/><circle cx="501.2" cy="756.0" r="5.8"/><circle cx="556.0" cy="767.2" r="5.8"/><circle cx="563.2" cy="811.3" r="5.8"/><circle cx="592.5" cy="820.1" r="5.8"/><circle cx="541.4" cy="834.5" r="5.8"/><circle cx="581.7" cy="855.3" r="5.8"/><circle cx="592.5" cy="866.5" r="5.8"/><circle cx="619.4" cy="876.3" r="5.8"/><circle cx="636.9" cy="866.5" r="5.8"/><circle cx="592.4" cy="913.2" r="5.8"/><circle cx="299.0" cy="366.9" r="5.8"/><circle cx="314.5" cy="449.1" r="5.8"/>
</g>
<polyline points="143.0,77.4 154.2,132 177.8,224 206.6,309 240.4,394 280.8,476 333.9,564 383.3,649 404.6,690 427.4,734 448,780 465,820 481.5,860 502.2,913.4" fill="none" stroke="#000" stroke-width="0.65" stroke-linejoin="round"/>
<g font-size="17.55" fill="#000">
<text x="71.2" y="66.2" text-anchor="end">4</text><text x="71.2" y="311.7" text-anchor="end">6</text><text x="71.2" y="557.3" text-anchor="end">8</text><text x="71.2" y="802.8" text-anchor="end">10</text><text x="220.8" y="949.8" text-anchor="middle">1</text><text x="421.5" y="949.8" text-anchor="middle">2</text><text x="622.3" y="949.8" text-anchor="middle">3</text><text x="382.2" y="984.9">V-Ic</text>
<text x="301.9" y="164.5" fill="#0000ff">Pleiades, r=133pc;E(B-V)=0.04</text>
<text x="302.0" y="226.0" fill="#ff0000">Alpha Per,r=182pc;E(B-V)=0.10</text>
<text x="302.1" y="287.6">Vandenberg &amp; Clem 2003 ZAMS</text>
</g>
<g transform="translate(10,450) scale(0.06596)" fill="none" stroke="#333" stroke-linecap="round" stroke-linejoin="round">
<path stroke-width="10" d="M190 845H418M415 812V878M192 835V872 M410 765L190 668 M410 380L190 312 M192 295V340 M192 422V465 M415 648V728 M192 655V725"/>
<path stroke-width="8" fill="#333" d="M150 515Q320 663 490 515Q320 641 150 515Z M150 240Q320 92 490 240Q320 114 150 240Z"/>
<path stroke-width="17" d="M192 838L408 765 M192 690H415 M192 445L408 380"/>
</g>
</svg>
</body></html>
